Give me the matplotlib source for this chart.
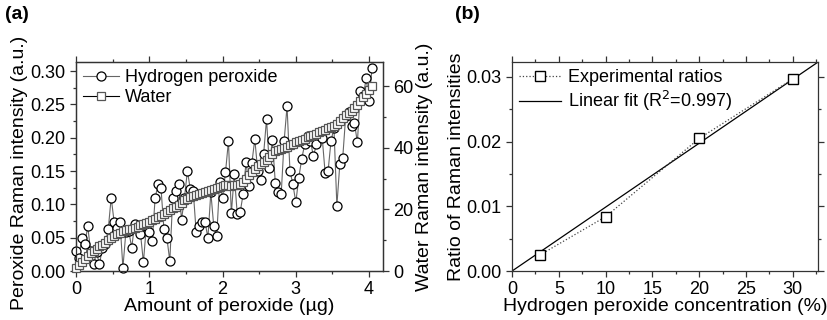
import matplotlib
matplotlib.use("Agg")
import matplotlib.pyplot as plt
from matplotlib.ticker import MultipleLocator
from matplotlib.lines import Line2D

plt.rcParams['font.family'] = ['Liberation Sans', 'DejaVu Sans']

# panel (a): peroxide amount (ug), peroxide Raman (left axis), water Raman (right axis)
amount = [0.00, 0.04, 0.08, 0.12, 0.16, 0.20, 0.24, 0.28, 0.32, 0.36,
          0.40, 0.44, 0.48, 0.52, 0.56, 0.60, 0.64, 0.68, 0.72, 0.76,
          0.80, 0.84, 0.88, 0.92, 0.96, 1.00, 1.04, 1.08, 1.12, 1.16,
          1.20, 1.24, 1.28, 1.32, 1.36, 1.40, 1.44, 1.48, 1.52, 1.56,
          1.60, 1.64, 1.68, 1.72, 1.76, 1.80, 1.84, 1.88, 1.92, 1.96,
          2.00, 2.04, 2.08, 2.12, 2.16, 2.20, 2.24, 2.28, 2.32, 2.36,
          2.40, 2.44, 2.48, 2.52, 2.56, 2.60, 2.64, 2.68, 2.72, 2.76,
          2.80, 2.84, 2.88, 2.92, 2.96, 3.00, 3.04, 3.08, 3.12, 3.16,
          3.20, 3.24, 3.28, 3.32, 3.36, 3.40, 3.44, 3.48, 3.52, 3.56,
          3.60, 3.64, 3.68, 3.72, 3.76, 3.80, 3.84, 3.88, 3.92, 3.96,
          4.00, 4.04]

peroxide = [0.030, 0.020, 0.050, 0.040, 0.067, 0.030, 0.010, 0.028, 0.010, 0.035,
            0.040, 0.063, 0.110, 0.074, 0.065, 0.074, 0.005, 0.058, 0.060, 0.035,
            0.070, 0.066, 0.056, 0.013, 0.068, 0.058, 0.045, 0.110, 0.130, 0.124,
            0.063, 0.050, 0.015, 0.110, 0.120, 0.130, 0.077, 0.110, 0.150, 0.123,
            0.120, 0.058, 0.068, 0.074, 0.074, 0.050, 0.118, 0.067, 0.052, 0.133,
            0.110, 0.148, 0.195, 0.087, 0.145, 0.086, 0.088, 0.115, 0.163, 0.128,
            0.162, 0.198, 0.150, 0.137, 0.175, 0.228, 0.155, 0.197, 0.132, 0.118,
            0.115, 0.195, 0.247, 0.150, 0.130, 0.103, 0.140, 0.168, 0.190, 0.203,
            0.195, 0.172, 0.190, 0.205, 0.200, 0.147, 0.150, 0.195, 0.215, 0.098,
            0.160, 0.170, 0.232, 0.238, 0.217, 0.222, 0.193, 0.270, 0.263, 0.289,
            0.255, 0.305]

water = [1.0, 2.0, 3.0, 4.0, 5.0, 5.8, 6.6, 7.3, 8.0, 8.6,
         9.2, 10.0, 10.8, 11.5, 12.1, 12.5, 12.9, 13.2, 13.5, 13.8,
         14.1, 14.4, 14.8, 15.2, 15.6, 16.0, 16.5, 17.0, 17.5, 18.0,
         18.6, 19.2, 19.8, 20.3, 20.9, 21.5, 22.2, 22.9, 23.5, 24.0,
         24.4, 24.8, 25.1, 25.4, 25.7, 26.0, 26.3, 26.6, 26.9, 27.2,
         27.5, 27.8, 28.0, 27.6, 27.8, 28.0, 28.3, 29.0, 30.0, 31.0,
         32.0, 33.0, 34.0, 34.8, 35.5, 36.0, 37.0, 38.0, 38.8, 39.2,
         39.6, 40.0, 40.4, 40.8, 41.2, 41.8, 42.2, 42.6, 43.0, 43.4,
         43.8, 44.2, 44.6, 45.0, 45.4, 45.8, 46.3, 46.8, 47.2, 47.8,
         48.6, 49.6, 50.6, 51.4, 52.0, 52.8, 54.0, 55.2, 56.4, 57.6,
         58.6, 60.0]

# panel (b): concentration (%) vs ratio
conc = [3, 10, 20, 30]
ratio = [0.0025, 0.0084, 0.0205, 0.0297]
fit_slope = 0.000988
fit_r2 = 0.997

fig = plt.figure(figsize=(8.28, 3.2), dpi=100)
ax1 = fig.add_axes([0.0918, 0.153, 0.3708, 0.653])
ax2 = ax1.twinx()
ax3 = fig.add_axes([0.6184, 0.153, 0.3696, 0.653])

def style(ax):
    for s in ax.spines.values():
        s.set_linewidth(0.9)
        s.set_color('#333333')
    ax.tick_params(which='both', direction='out', labelsize=13, width=0.9, color='#333333')
    ax.tick_params(which='major', length=4)
    ax.tick_params(which='minor', length=2.5)

# (a)
ax1.plot(amount, peroxide, '-', color='#666666', lw=0.8, marker='o', ms=6.5,
         mfc='white', mec='black', mew=0.9, clip_on=False, zorder=3)
ax2.plot(amount, water, '-', color='black', lw=0.8, marker='s', ms=5.2,
         mfc='white', mec='#555555', mew=0.9, clip_on=False, zorder=3)
ax1.set_xlim(0, 4.19)
ax1.set_ylim(0, 0.3136)
ax2.set_ylim(0, 67.8)
ax1.xaxis.set_major_locator(MultipleLocator(1))
ax1.xaxis.set_minor_locator(MultipleLocator(0.5))
ax1.yaxis.set_major_locator(MultipleLocator(0.05))
ax1.yaxis.set_minor_locator(MultipleLocator(0.025))
ax2.yaxis.set_major_locator(MultipleLocator(20))
ax2.yaxis.set_minor_locator(MultipleLocator(10))
ax1.yaxis.set_major_formatter(plt.FormatStrFormatter('%.2f'))
style(ax1)
style(ax2)
ax1.tick_params(which='both', top=True)
ax1.set_xlabel('Amount of peroxide (\u00b5g)', fontsize=14, labelpad=0)
ax1.set_ylabel('Peroxide Raman intensity (a.u.)', fontsize=14, labelpad=3)
ax1.yaxis.set_label_coords(-0.158, 0.47)
ax2.set_ylabel('Water Raman intensity (a.u.)', fontsize=14, labelpad=2)

h1 = Line2D([], [], color='#666666', lw=0.8, marker='o', ms=6.5, mfc='white', mec='black', mew=0.9)
h2 = Line2D([], [], color='black', lw=0.8, marker='s', ms=5.2, mfc='white', mec='#555555', mew=0.9)
ax2.legend([h1, h2], ['Hydrogen peroxide', 'Water'], loc='upper left', frameon=False,
           fontsize=13, handlelength=2.0, handletextpad=0.3, labelspacing=0.15,
           borderaxespad=0.2, borderpad=0.2)

# (b)
ax3.plot(conc, ratio, ':', color='#444444', lw=0.9, marker='s', ms=6.5,
         mfc='white', mec='black', mew=1.0, zorder=3)
fit_x = [0, 33]
fit_y = [fit_slope * v for v in fit_x]
ax3.plot(fit_x, fit_y, '-', color='black', lw=0.9)
ax3.set_xlim(0, 32.7)
ax3.set_ylim(0, 0.0323)
ax3.xaxis.set_major_locator(MultipleLocator(5))
ax3.xaxis.set_minor_locator(MultipleLocator(2.5))
ax3.yaxis.set_major_locator(MultipleLocator(0.01))
ax3.yaxis.set_minor_locator(MultipleLocator(0.005))
ax3.yaxis.set_major_formatter(plt.FormatStrFormatter('%.2f'))
style(ax3)
ax3.tick_params(which='both', top=True, right=True)
ax3.set_xlabel('Hydrogen peroxide concentration (%)', fontsize=14, labelpad=0)
ax3.set_ylabel('Ratio of Raman intensities', fontsize=14, labelpad=1)
h3 = Line2D([], [], color='#444444', ls=':', lw=0.9, marker='s', ms=6.5, mfc='white', mec='black', mew=1.0)
h4 = Line2D([], [], color='black', lw=0.9)
ax3.legend([h3, h4], ['Experimental ratios', 'Linear fit (R$^2$=%.3f)' % fit_r2],
           loc='upper left', frameon=False, fontsize=13, handlelength=2.3,
           handletextpad=0.4, labelspacing=0.15, borderaxespad=0.2, borderpad=0.2)

fig.text(0.006, 0.955, '(a)', fontsize=14, fontweight='bold', va='center')
fig.text(0.550, 0.955, '(b)', fontsize=14, fontweight='bold', va='center')

fig.savefig('out.png', dpi=100)
